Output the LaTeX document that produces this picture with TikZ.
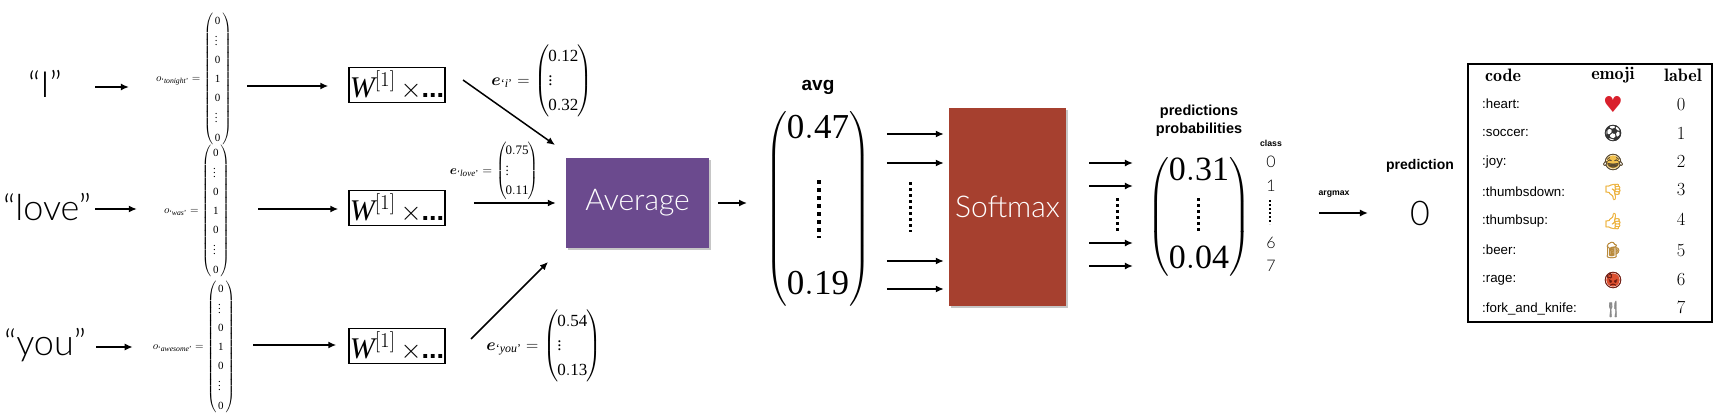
\documentclass[tikz,border=0pt]{standalone}
\usepackage{fix-cm}
\usepackage{amsmath}
\usepackage{fontspec}
\setmainfont{Liberation Serif}
\setsansfont{Liberation Sans}
\newfontfamily\lightfont{Lato Light}
\newfontfamily\emojifont{Noto Emoji}[FakeBold=1.5]
\newfontfamily\heartfont{DejaVu Sans}
\usetikzlibrary{shadows,arrows.meta}
\definecolor{avgpurple}{HTML}{6B4A8E}
\definecolor{softred}{HTML}{A6402F}
\definecolor{heartred}{HTML}{D9202C}
\definecolor{ballgray}{HTML}{333333}
\definecolor{joyface}{HTML}{F2C14E}
\definecolor{joyline}{HTML}{5A4A30}
\definecolor{thumbgold}{HTML}{EDB33F}
\definecolor{beeramber}{HTML}{B98A3C}
\definecolor{ragered}{HTML}{DD5030}
\definecolor{rageline}{HTML}{6E1A10}
\definecolor{forkgray}{HTML}{8A8A8A}
\tikzset{
    flow/.style={-{Latex[length=8pt,width=7pt]}, line width=1.5pt},
    wordtext/.style={font=\lightfont\fontsize{36}{40}\selectfont, inner sep=0pt},
    onehot/.style={font=\fontsize{11}{18.8}\selectfont, inner sep=0pt},
    embed/.style 2 args={font=\fontsize{#1}{#2}\selectfont, inner sep=0pt},
    wbox/.style={draw, line width=1.5pt, minimum width=96pt, minimum height=35pt, inner sep=0pt,
        font=\fontsize{30}{30}\selectfont},
    paperbox/.style={fill=#1, inner sep=0pt, text=white, font=\lightfont\fontsize{30}{32}\selectfont,
        drop shadow={shadow xshift=2pt, shadow yshift=-2pt, opacity=.45}},
    dotbar/.style={line width=#1, dash pattern=on #1 off #1},
    boldhead/.style={font=\sffamily\bfseries\fontsize{#1}{17.5}\selectfont, inner sep=0pt, align=center},
    lighttext/.style={font=\lightfont\fontsize{#1}{#1}\selectfont, inner sep=0pt},
    headcell/.style={font=\fontfamily{lmr}\bfseries\fontsize{18}{18}\selectfont, inner sep=0pt},
    numcell/.style={font=\fontfamily{lmr}\fontsize{18.5}{18}\selectfont, inner sep=0pt},
}
\newcommand{\wtimes}{$\mathit{W}^{[1]}$\,{\sffamily\fontsize{27}{30}\selectfont$\times$\bfseries...}}
\newcommand{\onevec}{\left(\begin{array}{@{\,}l@{\,}}\mathrm{0}\\ \vdots\\ \mathrm{0}\\ \mathrm{1}\\ \mathrm{0}\\ \vdots\\ \mathrm{0}\end{array}\right)}
\newcommand{\threevec}[2]{\left(\begin{array}{@{\kern-1pt}l@{\kern-1pt}}\mathrm{#1}\\ \vdots\\ \mathrm{#2}\end{array}\right)}
\begin{document}
\begin{tikzpicture}[x=1pt, y=-1pt]
    \useasboundingbox (0,0) rectangle (1716,420);

    % Words
    \node[wordtext] (wordi) at (45,84) {“I”};
    \node[wordtext] (wordlove) at (47,207) {“love”};
    \node[wordtext] (wordyou) at (45,345) {“you”};

    % One-hot vectors
    \node[onehot] (ohi) at (194,79) {$o_{\text{`}\mathit{tonight}\text{'}}=\onevec$};
    \node[onehot] (ohlove) at (197,211) {$o_{\text{`}\mathit{was}\text{'}}=\onevec$};
    \node[onehot] (ohyou) at (194,347) {$o_{\text{`}\mathit{awesome}\text{'}}=\onevec$};

    % Embedding boxes
    \node[wbox] (wi) at (397,85) {\wtimes};
    \node[wbox] (wlove) at (397,208) {\wtimes};
    \node[wbox] (wyou) at (397,346) {\wtimes};

    \draw[flow, shorten <=33pt, shorten >=27pt] (wordi.east |- 0,87) -- (ohi.west |- 0,87);
    \draw[flow, shorten <=4pt, shorten >=27pt] (wordlove.east |- 0,209) -- (ohlove.west |- 0,209);
    \draw[flow, shorten <=10pt, shorten >=20pt] (wordyou.east |- 0,347) -- (ohyou.west |- 0,347);
    \draw[flow, shorten <=15pt, shorten >=20pt] (ohi.east |- 0,86) -- (wi.west |- 0,86);
    \draw[flow, shorten <=28pt, shorten >=10pt] (ohlove.east |- 0,209) -- (wlove.west |- 0,209);
    \draw[flow, shorten <=18pt, shorten >=12pt] (ohyou.east |- 0,345) -- (wyou.west |- 0,345);

    % Embedded vectors
    \node[embed={17}{24.5}] (embi) at (542,81)
        {$\boldsymbol{e}_{\text{`}\mathit{i}\text{'}}=\threevec{0.12}{0.32}$};
    \node[embed={13}{18.5}] (emblove) at (494,171)
        {$\boldsymbol{e}_{\text{`}\mathit{love}\text{'}}=\threevec{0.75}{0.11}$};
    \node[embed={17}{24.5}] (embyou) at (544,346)
        {$\boldsymbol{e}_{\text{`}\mathit{you}\text{'}}=\threevec{0.54}{0.13}$};

    % Average
    \node[paperbox=avgpurple, minimum width=143pt, minimum height=90pt] (average) at (637.5,203) {Average};
    \coordinate (avgtop) at (463,80);
    \coordinate (avghead) at (555,145);
    \coordinate (avgbot) at (471,339);
    \coordinate (avgtip) at (548,262);
    \draw[flow] (avgtop) -- (avghead);
    \draw[flow, shorten <=28pt, shorten >=10pt] (wlove.east |- average.west) -- (average.west);
    \draw[flow] (avgbot) -- (avgtip);

    % Mean vector
    \node[boldhead=19] (avglabel) at (818,87) {avg};
    \node[font=\fontsize{35}{36}\selectfont, inner sep=0pt] (avgmat) at (818,209)
        {$\begin{pmatrix}\mathrm{0.47}\\[120pt]\mathrm{0.19}\end{pmatrix}$};
    \draw[dotbar=4pt] (819,180) -- (819,238);
    \draw[flow, shorten <=9pt, shorten >=18pt] (average.east) -- (avgmat.west |- average.east);

    % Softmax
    \node[paperbox=softred, minimum width=117pt, minimum height=198pt] (softmax) at (1007.5,207) {Softmax};
    \foreach \yy in {134,163,261,289}
        \draw[flow, shorten <=16pt, shorten >=5pt] (avgmat.east |- 0,\yy) -- (softmax.west |- 0,\yy);
    \draw[dotbar=3pt] (910,182) -- (910,232);

    % Probabilities
    \node[boldhead=14.5] (problabel) at (1199,121) {predictions\\probabilities};
    \node[font=\fontsize{34}{36}\selectfont, inner sep=0pt] (probmat) at (1199,217)
        {$\begin{pmatrix}\mathrm{0.31}\\[52pt]\mathrm{0.04}\end{pmatrix}$};
    \draw[dotbar=3pt] (1198,198) -- (1198,232);
    \foreach \yy in {163,186,243,266}
        \draw[flow, shorten <=23pt, shorten >=14pt] (softmax.east |- 0,\yy) -- (probmat.west |- 0,\yy);
    \draw[dotbar=3pt] (1117,198) -- (1117,231);

    % Classes
    \node[boldhead=8.7] (classlabel) at (1271,143) {class};
    \node[lighttext=16] (cls0) at (1271,162) {0};
    \node[lighttext=16] (cls1) at (1271,186) {1};
    \draw[dotbar=2pt] (1270,200) -- (1270,224);
    \node[lighttext=16] (cls6) at (1271,243) {6};
    \node[lighttext=16] (cls7) at (1271,266) {7};

    % Prediction
    \node[boldhead=8.7] (argmaxlabel) at (1334,194) {argmax};
    \node[boldhead=14] (predlabel) at (1420,166) {prediction};
    \node[lighttext=34] (predvalue) at (1420,213) {0};
    \draw[flow, shorten <=68pt, shorten >=42pt] (probmat.east |- predvalue) -- (predvalue);

    % Label table
    \node[draw, line width=1.5pt, minimum width=244pt, minimum height=258pt, inner sep=0pt] (emojitable) at (1590,193) {};
    \node[headcell] (headcode) at (1503,75) {code};
    \node[headcell] (heademoji) at (1613,75) {emoji};
    \node[headcell] (headlabel) at (1683,75) {label};
    \foreach \n/\yy/\ny/\txt/\icon/\tone/\tint in {
        0/104/105/:heart:/{\heartfont\fontsize{22}{22}\selectfont ♥}/heartred/white,
        1/133/133/:soccer:/⚽/ballgray/white,
        2/162/161/:joy:/😂/joyline/joyface,
        3/192/190/:thumbsdown:/👎/thumbgold/white,
        4/221/219/:thumbsup:/👍/thumbgold/white,
        5/250/251/:beer:/🍺/beeramber/white,
        6/280/280/:rage:/😡/rageline/ragered,
        7/309/307/:fork\_and\_knife:/🍴/forkgray/white} {
        \node[anchor=west, inner sep=0pt, font=\sffamily\fontsize{13.3}{14}\selectfont] (code\n) at (1482,\yy) {\txt};
        \node[circle, fill=\tint, inner sep=-4.5pt, text=\tone, font=\emojifont\fontsize{16}{17}\selectfont] (icon\n) at (1613,\yy) {\icon};
        \node[numcell] (num\n) at (1681,\ny) {\n};
    }
\end{tikzpicture}
\end{document}
